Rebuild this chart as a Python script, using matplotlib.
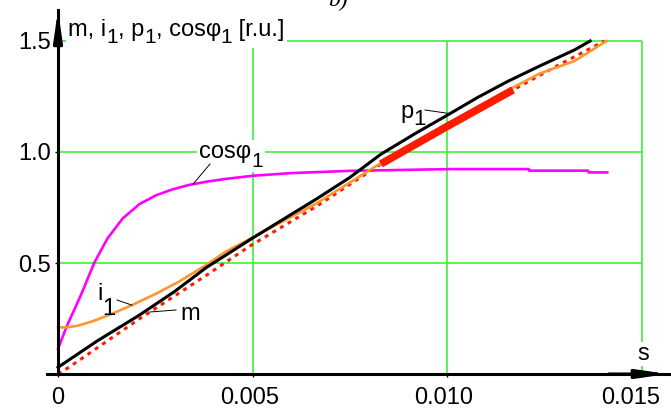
import numpy as np
import matplotlib
matplotlib.use("Agg")
import matplotlib.pyplot as plt
from matplotlib.transforms import ScaledTranslation, Bbox
from matplotlib.patches import Rectangle

plt.rcParams['font.family'] = ['Liberation Sans', 'DejaVu Sans']

# ---- data: slip s and per-unit quantities -------------------------------
s_p1 = [0.0, 0.0010, 0.00209, 0.0030, 0.0038, 0.0050, 0.00664, 0.0075,
        0.0083, 0.0092, 0.0100, 0.01078, 0.01156, 0.01239, 0.01328, 0.01368]
p1 = [0.03, 0.148, 0.265, 0.372, 0.478, 0.612, 0.788, 0.885,
      0.99, 1.085, 1.165, 1.245, 1.318, 1.388, 1.46, 1.50]

s_i1 = [0.0, 0.0002, 0.0005, 0.0009, 0.0014, 0.0019, 0.0025, 0.0031,
        0.0038, 0.0043, 0.0050, 0.00664, 0.00821, 0.0100, 0.01169, 0.01239,
        0.01328, 0.0141]
i1 = [0.21, 0.21, 0.217, 0.238, 0.272, 0.31, 0.36, 0.415,
      0.49, 0.55, 0.615, 0.768, 0.94, 1.11, 1.29, 1.354,
      1.41, 1.50]

s_m = [0.0, 0.00028, 0.00209, 0.0038, 0.00492, 0.00667, 0.0083, 0.0100,
       0.0117, 0.01285, 0.01405]
m = [0.0, 0.03, 0.248, 0.443, 0.575, 0.758, 0.946, 1.115,
     1.28, 1.39, 1.50]
# range of slip where the torque curve is drawn bold
s_m_bold = (0.0083, 0.0117)

s_cos = [0.0, 0.00022, 0.0006, 0.00093, 0.00127, 0.00166, 0.00209, 0.00252,
         0.00295, 0.00338, 0.00381, 0.00432, 0.00501, 0.0060, 0.0075, 0.0101,
         0.0121, 0.01211, 0.01363, 0.01364, 0.01412]
cos_phi1 = [0.113, 0.213, 0.36, 0.50, 0.61, 0.70, 0.765, 0.805,
            0.832, 0.852, 0.866, 0.879, 0.893, 0.905, 0.915, 0.923,
            0.923, 0.916, 0.916, 0.908, 0.908]

grid_x = [0.005, 0.010, 0.015]
grid_y = [0.5, 1.0, 1.5]
xtick_labels = ["0", "0.005", "0.010", "0.015"]
ytick_labels = ["0.5", "1.0", "1.5"]

# ---- figure -----------------------------------------------------------
W, H, DPI = 671, 408, 100
fig = plt.figure(figsize=(W / DPI, H / DPI), dpi=DPI)
ax = fig.add_axes([47 / W, 34 / H, 624 / W, 364 / H])
PX = 38.9e3   # pixels per unit slip
PY = 222.0    # pixels per r.u.
ax.set_xlim(-11 / PX, (W - 58) / PX)
ax.set_ylim(0, 364 / PY)

GREEN = '#3cf03c'
ORANGE = '#ff9630'
MAGENTA = '#ff00ff'
RED = '#ff1a00'
FS = 17

# grid
ax.vlines(grid_x, 0, grid_y[-1], color=GREEN, lw=1.2, zorder=1)
ax.hlines(grid_y, 0, grid_x[-1], color=GREEN, lw=1.2, zorder=1)

# curves
ax.plot(s_cos, cos_phi1, color=MAGENTA, lw=1.9, zorder=3, clip_on=False,
        solid_joinstyle='round')
ax.plot(s_m, m, color=RED, lw=2.2, ls=(0, (1.3, 1.6)), zorder=3, clip_on=False)
ax.plot(s_i1, i1, color=ORANGE, lw=1.9, zorder=4, clip_on=False,
        solid_joinstyle='round')
sb = np.linspace(s_m_bold[0], s_m_bold[1], 30)
ax.plot(sb, np.interp(sb, s_m, m), color=RED, lw=5.5, zorder=5,
        solid_capstyle='butt')
ax.plot(s_p1, p1, color='black', lw=2.2, zorder=6, clip_on=False,
        solid_joinstyle='round')

# axes lines with arrows
for sp in ('top', 'right'):
    ax.spines[sp].set_visible(False)
ax.spines['left'].set_position(('data', 0))
ax.spines['bottom'].set_position(('data', 0))
for sp in ('left', 'bottom'):
    ax.spines[sp].set_linewidth(2.2)
    ax.spines[sp].set_zorder(7)
arrow = dict(arrowstyle='-|>,head_length=0.9,head_width=0.13',
             lw=2.2, color='black', shrinkA=0, shrinkB=0, mutation_scale=20)
ax.annotate('', xy=(0, 1.0), xycoords=('data', 'axes fraction'),
            xytext=(0, 0.9), textcoords=('data', 'axes fraction'),
            arrowprops=arrow, zorder=8)
ax.annotate('', xy=(0.995, 0), xycoords=('axes fraction', 'data'),
            xytext=(0.9, 0), textcoords=('axes fraction', 'data'),
            arrowprops=arrow, zorder=8)

# ticks
ax.set_xticks([0] + grid_x)
ax.set_xticklabels(xtick_labels)
ax.set_yticks(grid_y)
ax.set_yticklabels(ytick_labels)
ax.tick_params(axis='x', length=2.5, width=1, pad=6.5, labelsize=FS)
ax.tick_params(axis='y', length=2.5, width=1, pad=2.5, labelsize=FS)
shifts = [0, -3, -3, -11]
for lab, dx in zip(ax.get_xticklabels(), shifts):
    lab.set_transform(lab.get_transform() +
                      ScaledTranslation(dx / DPI, 0, fig.dpi_scale_trans))


def px(x, y):
    """pixel position (from top-left) to data coordinates"""
    return (x - 58) / PX, (374 - y) / PY


def sub_text(x, y, parts, size=FS, sub_size=15, drop=4.5, zorder=9):
    """text with alternating normal / subscript pieces, placed by baseline"""
    pieces = [ax.text(x, y, parts[0], fontsize=size, va='baseline',
                      ha='left', zorder=zorder)]
    for i, p in enumerate(parts[1:], 1):
        is_sub = (i % 2 == 1)
        t = ax.annotate(p, xy=(1, 0), xycoords=pieces[-1],
                        xytext=(0, -drop if is_sub else drop),
                        textcoords='offset points',
                        fontsize=sub_size if is_sub else size,
                        va='bottom', ha='left', zorder=zorder)
        pieces.append(t)
    return pieces


labels = []
labels.append(sub_text(*px(68, 36), ["m, i", "1", ", p", "1", ", cos\u03c6", "1", " [r.u.]"],
                       drop=4.2))
labels.append(sub_text(*px(199, 158), ["cos\u03c6", "1"], sub_size=15, drop=5.8))
labels.append(sub_text(*px(97, 300), ["i", "1"], sub_size=17, drop=10.5))
labels.append(sub_text(*px(180, 320), ["m"]))
labels.append(sub_text(*px(400, 118), ["p", "1"], sub_size=16, drop=4.8))
s_lab = ax.text(*px(637, 360), "s", fontsize=FS, va='baseline', ha='left',
                zorder=9)
labels.append([s_lab])


def leader(xy_text_px, s_curve, s_data, v_data):
    xt, yt = px(*xy_text_px)
    ax.plot([xt, s_curve], [yt, np.interp(s_curve, s_data, v_data)],
            color='black', lw=0.7, zorder=9)


leader((210, 164), (193 - 58) / PX, s_cos, cos_phi1)
leader((117, 300), (132 - 58) / PX, s_i1, i1)
leader((176, 310), (150 - 58) / PX, s_m, m)
leader((425, 110), (450 - 58) / PX, s_p1, p1)

fig.text(338 / W, 1 - 6 / H, "b)", fontsize=FS, style='italic',
         family='Liberation Serif', ha='center', va='baseline')

# white backgrounds behind labels that sit on grid lines
fig.canvas.draw()
r = fig.canvas.get_renderer()
inv = ax.transData.inverted()
for grp in (labels[0], labels[1], labels[5]):
    bb = Bbox.union([t.get_window_extent(r) for t in grp])
    (x0, y0), (x1, y1) = inv.transform([[bb.x0 - 2, bb.y0 - 1],
                                        [bb.x1 + 2, bb.y1 + 1]])
    ax.add_patch(Rectangle((x0, y0), x1 - x0, y1 - y0, facecolor='white',
                           edgecolor='none', zorder=2))

fig.savefig("out.png", dpi=DPI)
